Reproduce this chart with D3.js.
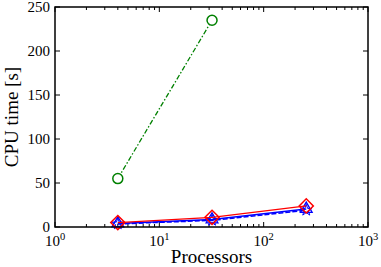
<!DOCTYPE html>
<html>
<head>
<meta charset="utf-8">
<script src="https://cdn.jsdelivr.net/npm/d3@7"></script>
<style>
  body { margin: 0; background: #fff; }
  svg text { font-family: "Liberation Serif", "DejaVu Serif", serif; fill: #000; }
</style>
</head>
<body>
<div id="chart"></div>
<script>
var processors = [4, 32, 256];
var redDiamond = [5, 11, 24];
var blueTriangle = [4, 8.5, 20.5];
var blueDashed = [3.5, 7.5, 19];
var greenCircle = [55, 235];
var yTicks = [0, 50, 100, 150, 200, 250];
var xDecades = [1, 10, 100, 1000];

var W = 381, H = 267;
var m = {left: 55, right: 13, top: 7, bottom: 40};

var svg = d3.select("#chart").append("svg")
  .attr("width", W)
  .attr("height", H);

var x = d3.scaleLog().domain([1, 1000]).range([m.left, W - m.right]);
var y = d3.scaleLinear().domain([0, 250]).range([H - m.bottom, m.top]);

var g = svg.append("g");

// minor ticks on log axis
var minor = [];
xDecades.slice(0, 3).forEach(function(d) {
  for (var k = 2; k < 10; k++) minor.push(d * k);
});

function tickLine(x1, y1, x2, y2, w) {
  g.append("line")
    .attr("x1", x1).attr("y1", y1).attr("x2", x2).attr("y2", y2)
    .attr("stroke", "#000").attr("stroke-width", w || 1);
}

var y0 = y(0), yTop = y(250), xL = x(1), xR = x(1000);

xDecades.forEach(function(d) {
  tickLine(x(d), y0, x(d), y0 - 5);
  tickLine(x(d), yTop, x(d), yTop + 5);
});
minor.forEach(function(d) {
  tickLine(x(d), y0, x(d), y0 - 3);
  tickLine(x(d), yTop, x(d), yTop + 3);
});
yTicks.forEach(function(d) {
  tickLine(xL, y(d), xL + 5, y(d));
  tickLine(xR, y(d), xR - 5, y(d));
});

// tick labels
yTicks.forEach(function(d) {
  g.append("text")
    .attr("x", xL - 5)
    .attr("y", y(d) + 5)
    .attr("text-anchor", "end")
    .style("font-size", "15px")
    .text(d);
});
xDecades.forEach(function(d, i) {
  var t = g.append("text")
    .attr("x", x(d))
    .attr("y", y0 + 19)
    .attr("text-anchor", "middle")
    .style("font-size", "15px");
  t.append("tspan").text("10");
  t.append("tspan").attr("dy", -6).style("font-size", "10.5px").text(i);
});

// axis titles
g.append("text")
  .attr("x", (xL + xR) / 2)
  .attr("y", H - 4)
  .attr("text-anchor", "middle")
  .style("font-size", "19px")
  .text("Processors");
g.append("text")
  .attr("transform", "translate(" + 18 + "," + ((y0 + yTop) / 2) + ") rotate(-90)")
  .attr("text-anchor", "middle")
  .style("font-size", "19px")
  .text("CPU time [s]");

function series(vals, color, dash, width) {
  var pts = vals.map(function(v, i) { return [processors[i], v]; });
  var line = d3.line().x(function(d) { return x(d[0]); }).y(function(d) { return y(d[1]); });
  g.append("path")
    .datum(pts)
    .attr("d", line)
    .attr("fill", "none")
    .attr("stroke", color)
    .attr("stroke-width", width || 1.3)
    .attr("stroke-dasharray", dash || null);
  return pts;
}

// blue dashed with stars
var pB2 = series(blueDashed, "#0000ff", "5,2", 1.5);
g.selectAll(".star").data(pB2).enter().append("path")
  .attr("transform", function(d) { return "translate(" + x(d[0]) + "," + y(d[1]) + ")"; })
  .attr("d", d3.symbol(d3.symbolStar, 40))
  .attr("fill", "none").attr("stroke", "#0000ff").attr("stroke-width", 1);

// blue solid with triangles
var pB = series(blueTriangle, "#0000ff", null, 1.5);
g.selectAll(".tri").data(pB).enter().append("path")
  .attr("transform", function(d) { return "translate(" + x(d[0]) + "," + y(d[1]) + ")"; })
  .attr("d", d3.symbol(d3.symbolTriangle, 60))
  .attr("fill", "none").attr("stroke", "#0000ff").attr("stroke-width", 1.3);

// red solid with diamonds
var pR = series(redDiamond, "#ff0000", null, 1.3);
g.selectAll(".dia").data(pR).enter().append("rect")
  .attr("x", -5).attr("y", -5).attr("width", 10).attr("height", 10)
  .attr("transform", function(d) { return "translate(" + x(d[0]) + "," + y(d[1]) + ") rotate(45)"; })
  .attr("fill", "none").attr("stroke", "#ff0000").attr("stroke-width", 1.5);

// green dash-dot with circles
var pG = series(greenCircle, "#008000", "5,2,1.5,2", 1.3);
g.selectAll(".circ").data(pG).enter().append("circle")
  .attr("cx", function(d) { return x(d[0]); })
  .attr("cy", function(d) { return y(d[1]); })
  .attr("r", 5)
  .attr("fill", "#fff").attr("stroke", "#008000").attr("stroke-width", 1.5);

// frame
g.append("rect")
  .attr("x", xL).attr("y", yTop)
  .attr("width", xR - xL).attr("height", y0 - yTop)
  .attr("fill", "none").attr("stroke", "#000").attr("stroke-width", 1.5);
</script>
</body>
</html>
